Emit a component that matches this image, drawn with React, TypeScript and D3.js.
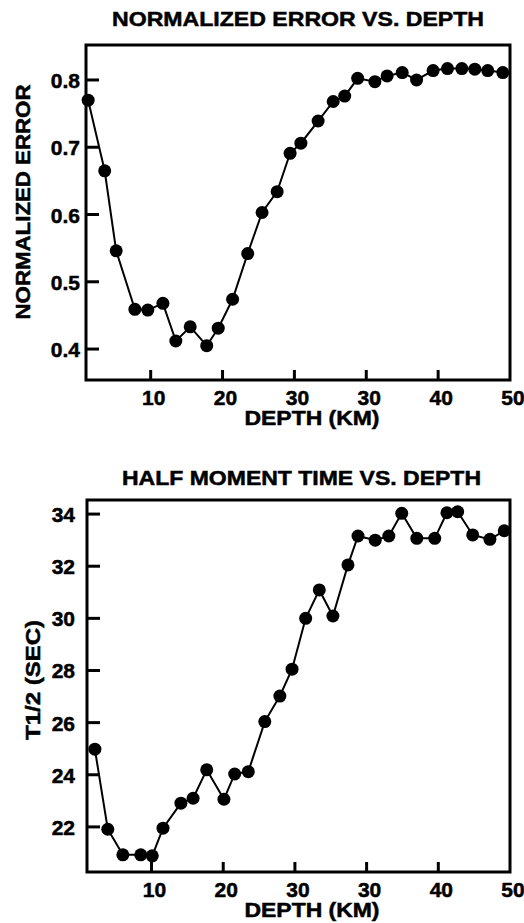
import React from "react";
import * as d3 from "d3";

const depthsError = [1.3, 3.6, 5.2, 7.8, 9.6, 11.7, 13.5, 15.5, 17.8, 19.4, 21.4, 23.5, 25.5, 27.6, 29.4, 30.9, 33.3, 35.4, 37.0, 38.8, 41.2, 42.9, 45.0, 47.0, 49.3, 51.3, 53.3, 55.1, 56.9, 59.0];
const errorValues = [0.770, 0.665, 0.546, 0.459, 0.458, 0.468, 0.412, 0.433, 0.405, 0.431, 0.474, 0.542, 0.603, 0.634, 0.691, 0.706, 0.739, 0.768, 0.776, 0.8025, 0.7975, 0.806, 0.811, 0.800, 0.814, 0.817, 0.817, 0.816, 0.814, 0.811];

const depthsHalf = [2.1, 3.9, 6.0, 8.5, 10.1, 11.6, 14.1, 15.8, 17.7, 20.1, 21.6, 23.5, 25.8, 27.9, 29.6, 31.5, 33.4, 35.3, 37.4, 38.8, 41.2, 43.1, 44.9, 47.0, 49.5, 51.2, 52.7, 54.8, 57.2, 59.2];
const halfValues = [24.98, 21.91, 20.93, 20.93, 20.89, 21.95, 22.91, 23.10, 24.19, 23.06, 24.03, 24.12, 26.04, 27.02, 28.05, 30.0, 31.09, 30.09, 32.05, 33.16, 33.0, 33.16, 34.03, 33.07, 33.07, 34.05, 34.09, 33.2, 33.03, 33.36];

const xTickValues = [10, 20, 30, 40, 50, 60];
const xTickLabels = ["10", "20", "30", "30", "40", "50"];
const errorTicks = [0.4, 0.5, 0.6, 0.7, 0.8];
const errorTickLabels = ["0.4", "0.5", "0.6", "0.7", "0.8"];
const halfTicks = [22, 24, 26, 28, 30, 32, 34];
const halfTickLabels = ["22", "24", "26", "28", "30", "32", "34"];

const FONT = "'Liberation Sans', Arial, Helvetica, sans-serif";

type PanelProps = {
  xs: number[];
  ys: number[];
  yDomain: [number, number];
  left: number;
  right: number;
  top: number;
  bottom: number;
  yTicks: number[];
  yTickLabels: string[];
  yLabelEnd: number;
  title: string;
  titleX: number;
  titleY: number;
  titleLen: number;
  yTitle: string;
  yTitleX: number;
  yTitleY: number;
  yTitleLen: number;
  xLabelY: number;
  xTitleY: number;
};

function Panel(p: PanelProps) {
  const x = d3.scaleLinear().domain([1, 60]).range([p.left, p.right]);
  const y = d3.scaleLinear().domain(p.yDomain).range([p.bottom, p.top]);
  const pts = p.xs.map((d, i) => [d, p.ys[i]] as [number, number]);
  const line = d3
    .line<[number, number]>()
    .x((d) => x(d[0]))
    .y((d) => y(d[1]));
  return (
    <g fontFamily={FONT} fontWeight="bold" fill="#000">
      <g stroke="#000" strokeWidth={0.5}>
        <text x={p.titleX} y={p.titleY} fontSize={20} textAnchor="middle" textLength={p.titleLen} lengthAdjust="spacingAndGlyphs">
          {p.title}
        </text>
        {p.yTicks.map((t, i) => (
          <text key={"yl" + i} x={p.yLabelEnd} y={y(t) + 8} fontSize={21} textAnchor="end">
            {p.yTickLabels[i]}
          </text>
        ))}
        {xTickValues.map((t, i) => (
          <text key={"xl" + i} x={x(t) + 3} y={p.xLabelY} fontSize={21} textAnchor="middle">
            {xTickLabels[i]}
          </text>
        ))}
        <text x={312} y={p.xTitleY} fontSize={20} textAnchor="middle" textLength={135} lengthAdjust="spacingAndGlyphs">
          DEPTH (KM)
        </text>
        <text
          transform={`translate(${p.yTitleX},${p.yTitleY}) rotate(-90)`}
          fontSize={21}
          textAnchor="middle"
          textLength={p.yTitleLen}
          lengthAdjust="spacingAndGlyphs"
        >
          {p.yTitle}
        </text>
      </g>
      <rect x={p.left} y={p.top} width={p.right - p.left} height={p.bottom - p.top} fill="none" stroke="#000" strokeWidth={3} />
      {p.yTicks.map((t, i) => (
        <line key={"yt" + i} x1={p.left} x2={p.left + 13} y1={y(t)} y2={y(t)} stroke="#000" strokeWidth={3} />
      ))}
      {xTickValues.slice(0, -1).map((t, i) => (
        <line key={"xt" + i} x1={x(t)} x2={x(t)} y1={p.bottom} y2={p.bottom - 10} stroke="#000" strokeWidth={3} />
      ))}
      <path d={line(pts) || ""} fill="none" stroke="#000" strokeWidth={2} />
      {pts.map((d, i) => (
        <circle key={"c" + i} cx={x(d[0])} cy={y(d[1])} r={6.5} fill="#000" />
      ))}
    </g>
  );
}

export default function App() {
  return (
    <svg width={524} height={923} style={{ position: "absolute", left: 0, top: 0, background: "#fff" }}>
      <rect width={524} height={923} fill="#fff" />
      <Panel
        xs={depthsError}
        ys={errorValues}
        yDomain={[0.354, 0.852]}
        left={86}
        right={510}
        top={45}
        bottom={380}
        yTicks={errorTicks}
        yTickLabels={errorTickLabels}
        yLabelEnd={80}
        title="NORMALIZED ERROR VS. DEPTH"
        titleX={298}
        titleY={26}
        titleLen={372}
        yTitle="NORMALIZED ERROR"
        yTitleX={30}
        yTitleY={202}
        yTitleLen={235}
        xLabelY={405}
        xTitleY={425}
      />
      <Panel
        xs={depthsHalf}
        ys={halfValues}
        yDomain={[20.27, 34.54]}
        left={87}
        right={510}
        top={500}
        bottom={872}
        yTicks={halfTicks}
        yTickLabels={halfTickLabels}
        yLabelEnd={75}
        title="HALF MOMENT TIME VS. DEPTH"
        titleX={301.5}
        titleY={485}
        titleLen={359}
        yTitle="T1/2 (SEC)"
        yTitleX={40}
        yTitleY={680}
        yTitleLen={120}
        xLabelY={897}
        xTitleY={917}
      />
    </svg>
  );
}
